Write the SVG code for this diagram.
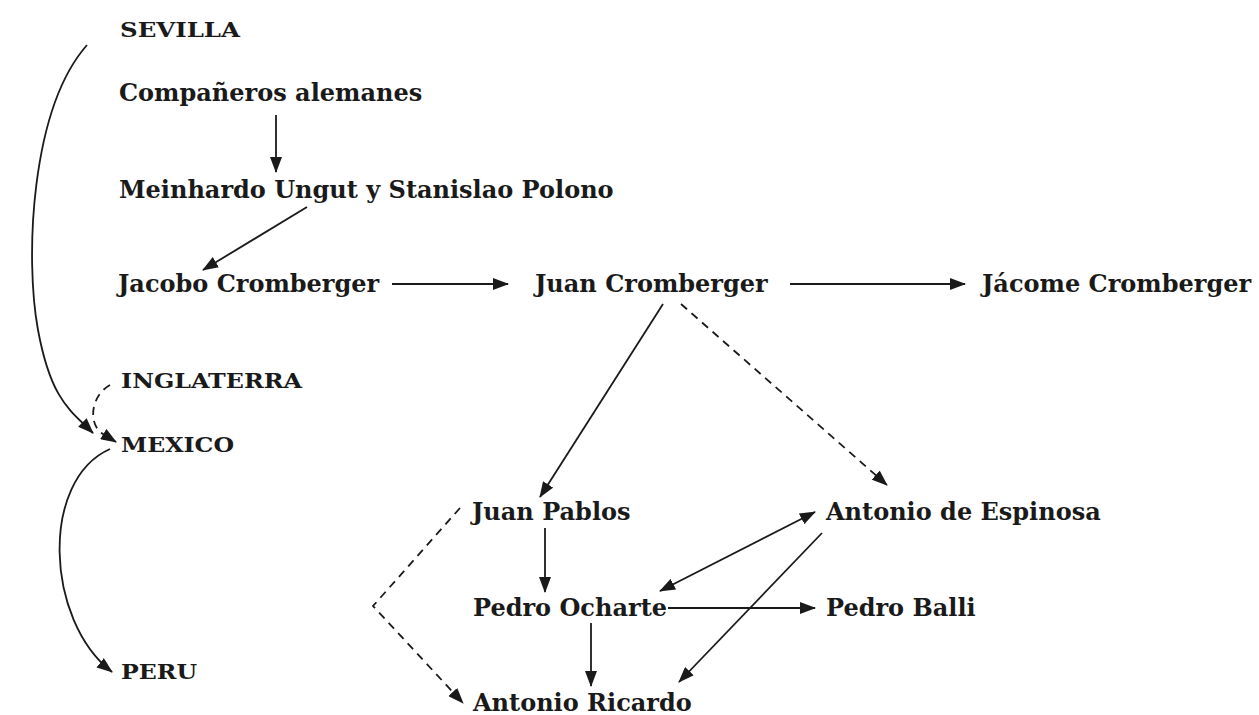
<svg xmlns="http://www.w3.org/2000/svg" width="1259" height="715" viewBox="0 0 1259 715">
<style>
text{font-family:"DejaVu Serif","Liberation Serif",serif;font-weight:bold;font-size:24px;fill:#1a1a1a}
text.cap{font-size:20px}
.c{stroke:#1a1a1a;stroke-width:1.8;fill:none}
.d{stroke-dasharray:8 6}
</style>
<defs>
<marker id="a" viewBox="0 0 16 12" refX="15" refY="6" markerWidth="16" markerHeight="12" markerUnits="userSpaceOnUse" orient="auto-start-reverse"><path d="M0,0L16,6L0,12z" fill="#1a1a1a"/></marker>
</defs>
<rect width="1259" height="715" fill="#fff"/>
<g id="n-sevilla"><text class="cap" x="120" y="37" textLength="120" lengthAdjust="spacingAndGlyphs">SEVILLA</text></g>
<g id="n-companeros"><text x="119" y="101">Compañeros alemanes</text></g>
<g id="n-meinhardo"><text x="119" y="198">Meinhardo Ungut y Stanislao Polono</text></g>
<g id="n-jacobo"><text x="118" y="292">Jacobo Cromberger</text></g>
<g id="n-juan"><text x="535" y="292">Juan Cromberger</text></g>
<g id="n-jacome"><text x="982" y="292">Jácome Cromberger</text></g>
<g id="n-inglaterra"><text class="cap" x="121" y="388" textLength="181" lengthAdjust="spacingAndGlyphs">INGLATERRA</text></g>
<g id="n-mexico"><text class="cap" x="121" y="452" textLength="113" lengthAdjust="spacingAndGlyphs">MEXICO</text></g>
<g id="n-juanpablos"><text x="472" y="520">Juan Pablos</text></g>
<g id="n-espinosa"><text x="826" y="520">Antonio de Espinosa</text></g>
<g id="n-ocharte"><text x="473" y="616">Pedro Ocharte</text></g>
<g id="n-balli"><text x="826" y="616">Pedro Balli</text></g>
<g id="n-peru"><text class="cap" x="121" y="679" textLength="76" lengthAdjust="spacingAndGlyphs">PERU</text></g>
<g id="n-ricardo"><text x="473" y="711">Antonio Ricardo</text></g>
<g id="connectors">
<path class="c" d="M276,115V172" marker-end="url(#a)"/>
<path class="c" d="M307,207L203,270" marker-end="url(#a)"/>
<path class="c" d="M392,284H508" marker-end="url(#a)"/>
<path class="c" d="M790,284H965" marker-end="url(#a)"/>
<path class="c" d="M663,304L540,497" marker-end="url(#a)"/>
<path class="c d" d="M681,304L887,485" marker-end="url(#a)"/>
<path class="c" d="M545,528V592" marker-end="url(#a)"/>
<path class="c" d="M660,591L815,512" marker-start="url(#a)" marker-end="url(#a)"/>
<path class="c" d="M668,608H815" marker-end="url(#a)"/>
<path class="c" d="M822,533L679,682" marker-end="url(#a)"/>
<path class="c" d="M591,623V686" marker-end="url(#a)"/>
<path class="c d" d="M460,508L373,606L463,703" marker-end="url(#a)"/>
<path class="c" d="M87,45C30,110 25,260 38,330S70,410 93,433" marker-end="url(#a)"/>
<path class="c d" d="M110,385C92,395 88,420 100,432L116,442" marker-end="url(#a)"/>
<path class="c" d="M110,449C40,480 45,620 112,672" marker-end="url(#a)"/>
</g>
</svg>
